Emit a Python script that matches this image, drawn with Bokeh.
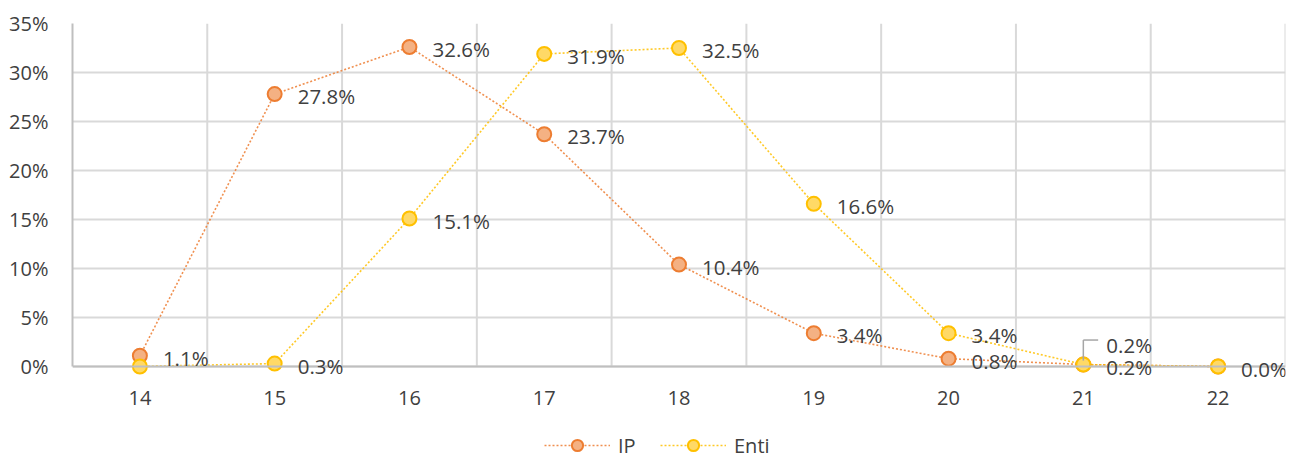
from bokeh.plotting import figure
from bokeh.models import (ColumnDataSource, FixedTicker, PrintfTickFormatter,
                          Legend, LegendItem, LabelSet, Label)
from bokeh.core.properties import value
from bokeh.embed import file_html
from bokeh.resources import INLINE

# ---- data ----
ages = [14, 15, 16, 17, 18, 19, 20, 21, 22]
ip_pct = [1.1, 27.8, 32.6, 23.7, 10.4, 3.4, 0.8, 0.2, 0.0]
enti_pct = [0.0, 0.3, 15.1, 31.9, 32.5, 16.6, 3.4, 0.2, 0.0]
ip_label_shown = [True, True, True, True, True, True, True, True, False]
enti_label_shown = [False, True, True, True, True, True, True, False, True]
y_ticks = [0, 5, 10, 15, 20, 25, 30, 35]

FONT = "Open Sans"
TXT = "#404040"
GRID = "#d9d9d9"
IP_LINE, IP_FILL = "#ed7d31", "#f4b183"
EN_LINE, EN_FILL = "#ffc000", "#ffd966"

# the plotting frame runs down to the bottom of the canvas so that labels
# below the 0% line (and the legend) are not clipped; the value axis spans 0..35
Y_LOW = -(93 / 343) * (y_ticks[-1] - y_ticks[0])

p = figure(width=1288, height=459,
           x_range=(ages[0] - 0.5, ages[-1] + 0.5),
           y_range=(Y_LOW, y_ticks[-1]), output_backend="svg",
           toolbar_location=None, min_border_left=72, min_border_right=3,
           min_border_top=23, min_border_bottom=0)
p.outline_line_color = None
p.background_fill_color = "white"

# grids
p.xgrid.visible = False
p.ygrid.ticker = FixedTicker(ticks=y_ticks)
p.ygrid.grid_line_color = GRID
p.ygrid.grid_line_width = 2
vx = [a + 0.5 for a in ages]
p.segment(x0=vx, y0=[y_ticks[0]] * len(vx), x1=vx, y1=[y_ticks[-1]] * len(vx),
          line_color=GRID, line_width=2)

# axes
p.xaxis.ticker = FixedTicker(ticks=ages)
p.xaxis.fixed_location = 0
p.yaxis.ticker = FixedTicker(ticks=y_ticks)
p.yaxis.bounds = (y_ticks[0], y_ticks[-1])
p.yaxis.formatter = PrintfTickFormatter(format="%d%%")
for ax in (p.xaxis[0], p.yaxis[0]):
    ax.axis_line_color = "#bfbfbf"
    ax.axis_line_width = 2
    ax.major_tick_line_color = None
    ax.minor_tick_line_color = None
    ax.major_label_text_font = FONT
    ax.major_label_text_font_size = "20px"
    ax.major_label_text_color = TXT
p.yaxis.major_label_standoff = 18
p.xaxis.major_label_standoff = 18

src_ip = ColumnDataSource(dict(x=ages, y=ip_pct,
    t=[f"{v:.1f}%" if s else "" for v, s in zip(ip_pct, ip_label_shown)]))
src_en = ColumnDataSource(dict(x=ages, y=enti_pct,
    t=[f"{v:.1f}%" if s else "" for v, s in zip(enti_pct, enti_label_shown)]))

l1 = p.line("x", "y", source=src_ip, line_color=IP_LINE, line_width=1.6,
            line_dash="2 2", line_alpha=0.85)
c1 = p.scatter("x", "y", source=src_ip, size=14, fill_color=IP_FILL,
               line_color=IP_LINE, line_width=2)
l2 = p.line("x", "y", source=src_en, line_color=EN_LINE, line_width=1.6,
            line_dash="2 2", line_alpha=0.85)
c2 = p.scatter("x", "y", source=src_en, size=14, fill_color=EN_FILL,
               line_color=EN_LINE, line_width=2)

LBL = "20.5px"
for src in (src_ip, src_en):
    p.add_layout(LabelSet(x="x", y="y", text="t", source=src,
                          x_offset=23, y_offset=-2,
                          text_font=value(FONT), text_font_size=value(LBL),
                          text_color=value(TXT), text_baseline="middle",
                          text_align="left"))

# label with leader line for Enti at 21
i21 = ages.index(21)
lx, ly = ages[i21], enti_pct[i21]
p.segment(x0=[lx], y0=[ly + 0.4], x1=[lx], y1=[ly + 2.5],
          line_color="#a6a6a6", line_width=1.5)
p.segment(x0=[lx], y0=[ly + 2.5], x1=[lx + 0.11], y1=[ly + 2.5],
          line_color="#a6a6a6", line_width=1.5)
p.add_layout(Label(x=lx, y=ly, text=f"{ly:.1f}%", x_offset=23, y_offset=20,
                   text_font=FONT, text_font_size=LBL, text_color=TXT,
                   text_baseline="middle", text_align="left"))

legend = Legend(items=[LegendItem(label="IP", renderers=[l1, c1]),
                       LegendItem(label="Enti", renderers=[l2, c2])],
                orientation="horizontal", location=(472, 0),
                glyph_width=66, glyph_height=28, label_standoff=8,
                spacing=22, padding=0, margin=0,
                border_line_alpha=0, background_fill_alpha=0,
                label_text_font=FONT, label_text_font_size="20px",
                label_text_color=TXT)
p.add_layout(legend, "center")

open("out.html", "w").write(file_html(p, INLINE))
